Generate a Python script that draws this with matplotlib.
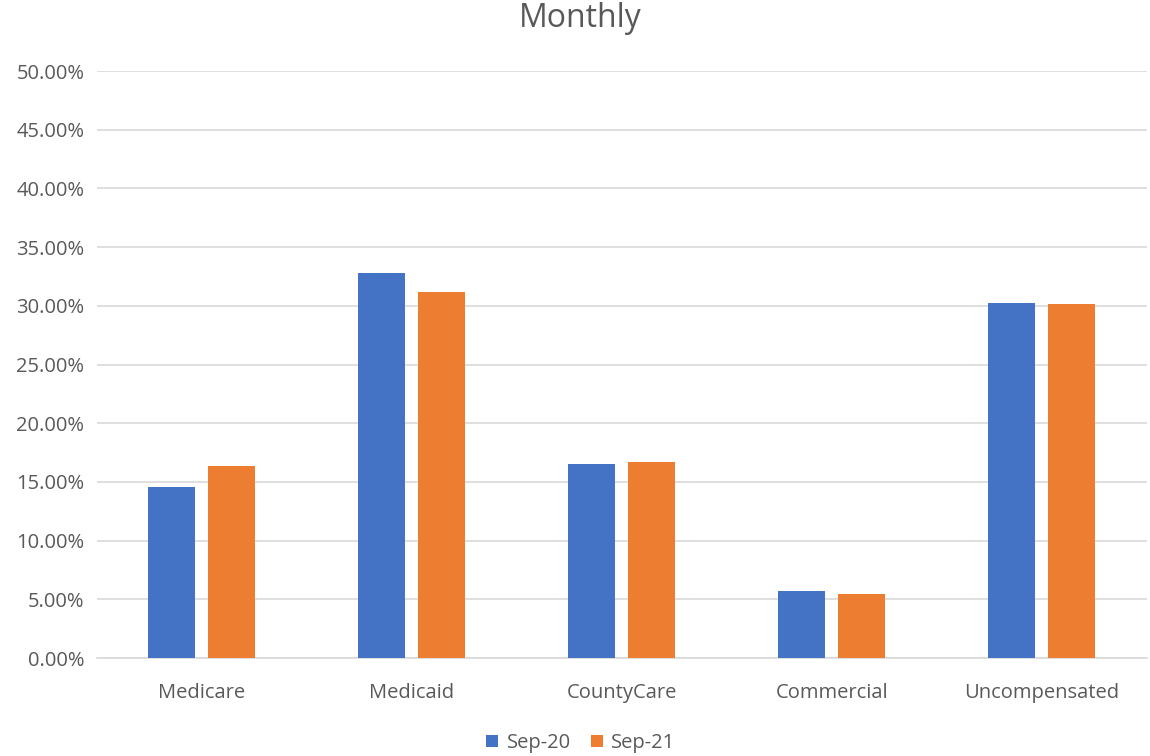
import numpy as np
import matplotlib
matplotlib.use("Agg")
import matplotlib.pyplot as plt
from matplotlib.ticker import PercentFormatter, MultipleLocator

categories = ["Medicare", "Medicaid", "CountyCare", "Commercial", "Uncompensated"]
sep20 = [0.1454, 0.3277, 0.1652, 0.0571, 0.3027]
sep21 = [0.1633, 0.3115, 0.1672, 0.0548, 0.3015]

grey = "#595959"
plt.rcParams['font.family'] = ['Open Sans', 'DejaVu Sans']

fig = plt.figure(figsize=(11.5, 7.56), dpi=100)
ax = fig.add_axes([0.0843, 0.1296, 0.9127, 0.7764])

x = np.arange(len(categories))
w = 0.224
off = 0.143
ax.bar(x - off, sep20, w, color="#4472C4", label="Sep-20", zorder=3)
ax.bar(x + off, sep21, w, color="#ED7D31", label="Sep-21", zorder=3)

ax.set_xlim(-0.5, len(categories) - 0.5)
ax.set_ylim(0, 0.5)
ax.yaxis.set_major_locator(MultipleLocator(0.05))
ax.yaxis.set_major_formatter(PercentFormatter(1.0, decimals=2))
ax.grid(axis='y', color="#D9D9D9", linewidth=1.2, zorder=0)
ax.set_xticks(x)
ax.set_xticklabels(categories)
ax.tick_params(axis='both', length=0, labelsize=14.5, labelcolor=grey)
ax.tick_params(axis='x', pad=18)
ax.tick_params(axis='y', pad=9)
for s in ["top", "right", "left"]:
    ax.spines[s].set_visible(False)
ax.spines["bottom"].set_color("#D9D9D9")
ax.spines["bottom"].set_linewidth(1.2)

fig.suptitle("Monthly", x=0.505, y=0.997, fontsize=23, color=grey)
fig.legend(loc="lower center", ncol=2, frameon=False, fontsize=14.5,
           bbox_to_anchor=(0.505, -0.02), handlelength=0.6, handleheight=0.6,
           columnspacing=1.0, handletextpad=0.4, labelcolor=grey)

fig.savefig("out.png", dpi=100)
